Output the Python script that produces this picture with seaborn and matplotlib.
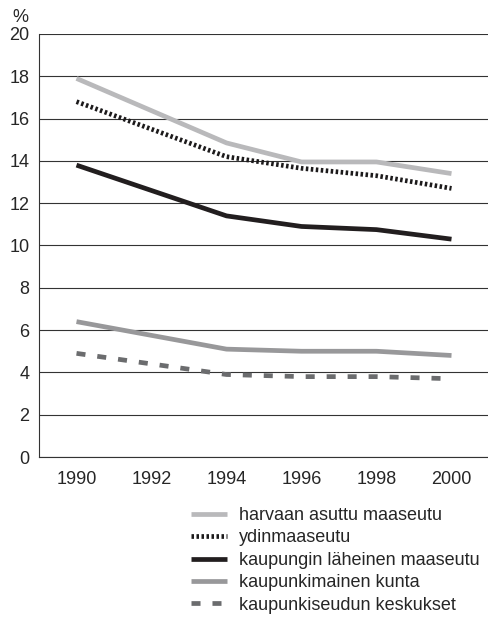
import matplotlib
matplotlib.use("Agg")
import matplotlib.pyplot as plt
import seaborn as sns

years = [1990, 1994, 1996, 1998, 2000]
tick_years = [1990, 1992, 1994, 1996, 1998, 2000]
harvaan = [17.9, 14.85, 13.95, 13.95, 13.4]
ydin = [16.8, 14.2, 13.65, 13.3, 12.7]
lahi = [13.8, 11.4, 10.9, 10.75, 10.3]
kaupunkimainen = [6.4, 5.1, 5.0, 5.0, 4.8]
keskukset = [4.9, 3.9, 3.8, 3.8, 3.7]

sns.set_style("white")
plt.rcParams['font.family'] = ['Liberation Sans', 'DejaVu Sans']
plt.rcParams['lines.scale_dashes'] = False

fig = plt.figure(figsize=(4.89, 6.26), dpi=100)
ax = fig.add_axes([39 / 489, 1 - 457 / 626, 1 - 39 / 489, (457 - 34) / 626])

series = [
    ("harvaan asuttu maaseutu", harvaan, "#b9b9bb", "-"),
    ("ydinmaaseutu", ydin, "#1c1a1b", (0, (1.8, 1.8))),
    ("kaupungin läheinen maaseutu", lahi, "#221e1f", "-"),
    ("kaupunkimainen kunta", kaupunkimainen, "#98989a", "-"),
    ("kaupunkiseudun keskukset", keskukset, "#6b6c6e", (0, (6.5, 8.6))),
]
for name, vals, col, ls in series:
    sns.lineplot(x=years, y=vals, ax=ax, color=col, lw=3.4, linestyle=ls,
                 label=name, solid_capstyle="butt", dash_capstyle="butt")

ax.set_xlim(1989, 2001)
ax.set_ylim(0, 20)
ax.set_yticks(range(0, 21, 2))
ax.set_xticks(tick_years)
ax.set_xticks([1991, 1993, 1995, 1997, 1999], minor=True)
ax.tick_params(axis="x", which="major", length=0, labelsize=13, pad=10)
ax.tick_params(axis="x", which="minor", direction="in", length=4, width=0.8, color="#333333")
ax.tick_params(axis="y", length=3, width=0.8, labelsize=13, color="#333333", pad=4)
ax.yaxis.grid(True, color="#333333", lw=0.8)
ax.set_axisbelow(True)
for s in ["top", "right"]:
    ax.spines[s].set_visible(False)
for s in ["left", "bottom"]:
    ax.spines[s].set_color("#333333")
    ax.spines[s].set_linewidth(0.8)
ax.set_xlabel("")
ax.set_ylabel("")
fig.text(20 / 489, 1 - 18 / 626, "%", fontsize=13, ha="center", va="center")

handles, labels = ax.get_legend_handles_labels()
ax.get_legend().remove()
fig.legend(handles, labels, loc="upper left", bbox_to_anchor=(191 / 489, 1 - 507 / 626),
           frameon=False, fontsize=13, handlelength=2.0, handletextpad=0.65,
           labelspacing=0.3, borderpad=0, borderaxespad=0)

fig.savefig("out.png", dpi=100)
